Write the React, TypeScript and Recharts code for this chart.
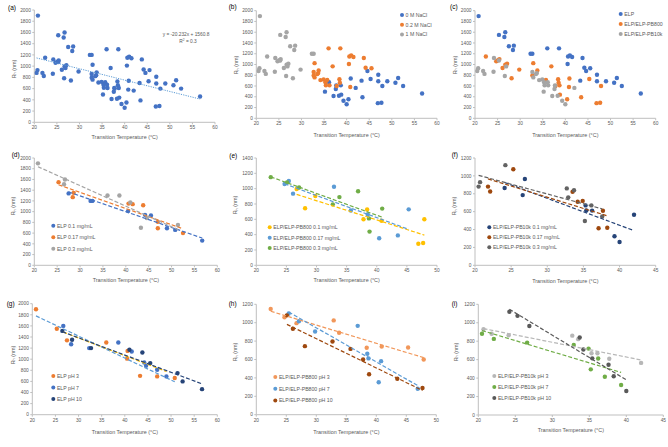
import React from 'react';
import { ScatterChart, Scatter, XAxis, YAxis } from 'recharts';

type Pt = { t: number; rh: number; conc: number; ph: number; nacl: number };
type Row = [number, number, number, number, number];

// [transition temperature (°C), Rh (nm), conc (mg/mL), pH, NaCl (M)]
const elpRows: Row[] = [
  [20.8, 1900, 0.3, 3, 1], [25.3, 1550, 0.17, 3, 1], [26.5, 1510, 0.3, 10, 1],
  [26.7, 1600, 0.3, 7, 1], [27.5, 1340, 0.1, 3, 1], [28.4, 1270, 0.17, 7, 1],
  [28.6, 1350, 0.17, 10, 1], [32.3, 1200, 0.1, 7, 1], [32.7, 1200, 0.1, 10, 1],
  [36.0, 1300, 0.3, 3, 0.2], [38.6, 1300, 0.3, 7, 0.2], [40.5, 1010, 0.1, 3, 0.2],
  [40.6, 1150, 0.17, 3, 0.2], [41.0, 1170, 0.3, 10, 0.2], [41.5, 1140, 0.17, 7, 0.2],
  [43.8, 1120, 0.17, 10, 0.2], [44.2, 940, 0.1, 7, 0.2], [45.5, 930, 0.1, 10, 0.2],
  [44.6, 880, 0.3, 7, 0], [43.3, 700, 0.3, 3, 0], [47.0, 690, 0.17, 3, 0],
  [47.0, 810, 0.17, 7, 0], [49.0, 690, 0.1, 7, 0], [51.4, 750, 0.3, 10, 0],
  [50.8, 660, 0.1, 3, 0], [52.5, 600, 0.17, 10, 0], [56.7, 460, 0.1, 10, 0],
];

const pb800Rows: Row[] = [
  [22.4, 1150, 0.3, 3, 1], [24.7, 1060, 0.17, 3, 1], [25.1, 1080, 0.3, 10, 1],
  [25.4, 1100, 0.17, 7, 1], [26.1, 935, 0.17, 10, 1], [26.7, 995, 0.1, 3, 1],
  [27.1, 1015, 0.3, 7, 1], [28.1, 745, 0.1, 10, 1], [29.8, 905, 0.1, 7, 1],
  [32.9, 1025, 0.17, 3, 0.2], [32.7, 795, 0.3, 10, 0.2], [33.8, 890, 0.3, 3, 0.2],
  [35.7, 715, 0.17, 10, 0.2], [36.9, 966, 0.3, 7, 0.2], [38.4, 728, 0.1, 3, 0.2],
  [38.5, 662, 0.17, 7, 0.2], [37.8, 600, 0.1, 10, 0.2], [40.8, 582, 0.1, 7, 0.2],
  [38.7, 612, 0.3, 7, 0], [38.8, 440, 0.3, 10, 0], [40.9, 740, 0.3, 3, 0],
  [40.4, 353, 0.17, 7, 0], [43.5, 390, 0.17, 10, 0], [45.3, 730, 0.17, 3, 0],
  [46.9, 282, 0.1, 7, 0], [47.7, 290, 0.1, 10, 0], [47.9, 600, 0.1, 3, 0],
];

const pb10kRows: Row[] = [
  [20.5, 880, 0.3, 7, 1], [20.7, 930, 0.3, 3, 1], [21.8, 880, 0.17, 3, 1],
  [22.1, 825, 0.17, 7, 1], [24.1, 865, 0.1, 3, 1], [24.2, 1120, 0.3, 10, 1],
  [25.3, 1075, 0.17, 10, 1], [26.6, 785, 0.1, 7, 1], [26.9, 965, 0.1, 10, 1],
  [32.7, 860, 0.3, 3, 0.2], [32.9, 760, 0.3, 7, 0.2], [33.7, 840, 0.3, 10, 0.2],
  [33.5, 822, 0.17, 3, 0.2], [34.2, 710, 0.17, 10, 0.2], [34.9, 720, 0.17, 7, 0.2],
  [35.3, 670, 0.1, 3, 0.2], [36.2, 612, 0.1, 7, 0.2], [35.4, 614, 0.1, 10, 0.2],
  [35.2, 495, 0.3, 7, 0], [36.1, 670, 0.3, 3, 0], [37.6, 545, 0.3, 10, 0],
  [37.7, 610, 0.17, 3, 0], [37.1, 415, 0.17, 7, 0], [38.3, 420, 0.17, 10, 0],
  [39.3, 325, 0.1, 7, 0], [40.0, 260, 0.1, 10, 0], [42.0, 565, 0.1, 3, 0],
];

const concLevels = [0.1, 0.17, 0.3];
const phLevels = [3, 7, 10];
const naclLevels = [0, 0.2, 1];
const naclNames = ['0 M NaCl', '0.2 M NaCl', '1 M NaCl'];
const typeNames = ['ELP', 'ELP/ELP-PB800', 'ELP/ELP-PB10k'];

// Excel trendline shown in panel (a)
const fitA = { slope: -20.232, intercept: 1560.8, r2: 0.3 };

const xTicks60 = [20, 25, 30, 35, 40, 45, 50, 55, 60];
const xTicks50 = [20, 25, 30, 35, 40, 45, 50];
const xTicks45 = [20, 25, 30, 35, 40, 45];
const yTicks2000 = [0, 200, 400, 600, 800, 1000, 1200, 1400, 1600, 1800, 2000];
const yTicks1400 = [0, 200, 400, 600, 800, 1000, 1200, 1400];
const yTicks1200 = [0, 200, 400, 600, 800, 1000, 1200];

const toPts = (rows: Row[]): Pt[] => rows.map(([t, rh, conc, ph, nacl]) => ({ t, rh, conc, ph, nacl }));
const elp = toPts(elpRows);
const pb800 = toPts(pb800Rows);
const pb10k = toPts(pb10kRows);
const allPts = [...elp, ...pb800, ...pb10k];

const FONT = '"Liberation Sans", Arial, sans-serif';
const TXT = '#595959';
const AXIS = '#BFBFBF';

type SeriesDef = { name: string; color: string; line?: string; pts: Pt[] };
type PanelDef = {
  tag: string;
  tagPos: [number, number];
  box: [number, number];
  plot: [number, number, number, number];
  xTicks: number[];
  yTicks: number[];
  series: SeriesDef[];
  fit: 'none' | 'dashed' | 'equation';
  legend?: { x: number; y: number; gap: number };
  yTitle: [number, number];
  xTitleY: number;
};

function trend(pts: Pt[]) {
  const n = pts.length;
  const mx = pts.reduce((s, p) => s + p.t, 0) / n;
  const my = pts.reduce((s, p) => s + p.rh, 0) / n;
  let sxy = 0;
  let sxx = 0;
  pts.forEach((p) => {
    sxy += (p.t - mx) * (p.rh - my);
    sxx += (p.t - mx) * (p.t - mx);
  });
  const b = sxy / sxx;
  const a = my - b * mx;
  const lo = Math.min(...pts.map((p) => p.t));
  const hi = Math.max(...pts.map((p) => p.t));
  return [{ t: lo, rh: a + b * lo }, { t: hi, rh: a + b * hi }];
}

function equationLine(pts: Pt[]) {
  const lo = Math.min(...pts.map((p) => p.t));
  const hi = Math.max(...pts.map((p) => p.t));
  return [lo, hi].map((t) => ({ t, rh: fitA.slope * t + fitA.intercept }));
}

const byConc = (pts: Pt[], prefix: string, colors: string[]): SeriesDef[] =>
  concLevels.map((c, i) => ({ name: `${prefix} ${c} mg/mL`, color: colors[i], pts: pts.filter((p) => p.conc === c) }));
const byPh = (pts: Pt[], prefix: string, colors: string[], lines?: string[]): SeriesDef[] =>
  phLevels.map((ph, i) => ({ name: `${prefix} pH ${ph}`, color: colors[i], line: lines?.[i], pts: pts.filter((p) => p.ph === ph) }));

const panels: PanelDef[] = [
  {
    tag: '(a)', tagPos: [8, 7.5], box: [0, 0], plot: [34.3, 10, 215, 122.3],
    xTicks: xTicks60, yTicks: yTicks2000, fit: 'equation',
    series: [{ name: 'all', color: '#4472C4', line: '#5B9BD5', pts: allPts }],
    yTitle: [14, 69], xTitleY: 137,
  },
  {
    tag: '(b)', tagPos: [228.7, 6.7], box: [222, 0], plot: [256.3, 10.7, 437, 118.3],
    xTicks: xTicks60, yTicks: yTicks2000, fit: 'none',
    series: naclLevels.map((n, i) => ({ name: naclNames[i], color: ['#4472C4', '#ED7D31', '#A5A5A5'][i], pts: allPts.filter((p) => p.nacl === n) })),
    legend: { x: 402, y: 15, gap: 9.7 }, yTitle: [236.3, 65], xTitleY: 135,
  },
  {
    tag: '(c)', tagPos: [450, 6.5], box: [445, 0], plot: [475, 10.7, 655.7, 118.3],
    xTicks: xTicks60, yTicks: yTicks2000, fit: 'none',
    series: [elp, pb800, pb10k].map((pts, i) => ({ name: typeNames[i], color: ['#4472C4', '#ED7D31', '#A5A5A5'][i], pts })),
    legend: { x: 620.7, y: 14, gap: 10 }, yTitle: [455, 65], xTitleY: 135,
  },
  {
    tag: '(d)', tagPos: [11.7, 154.5], box: [0, 148], plot: [34.3, 158, 217.3, 265.3],
    xTicks: xTicks60, yTicks: yTicks2000, fit: 'dashed',
    series: byConc(elp, 'ELP', ['#4472C4', '#ED7D31', '#A5A5A5']),
    legend: { x: 53.3, y: 225.7, gap: 11.5 }, yTitle: [13.3, 206], xTitleY: 280,
  },
  {
    tag: '(e)', tagPos: [229.3, 155], box: [222, 148], plot: [256.3, 158, 437, 265.3],
    xTicks: xTicks50, yTicks: yTicks1400, fit: 'dashed',
    series: byConc(pb800, 'ELP/ELP-PB800', ['#FFC000', '#5B9BD5', '#70AD47']),
    legend: { x: 269.7, y: 227.3, gap: 10.4 }, yTitle: [235.3, 205], xTitleY: 280,
  },
  {
    tag: '(f)', tagPos: [451.7, 154], box: [445, 148], plot: [475, 158, 655.7, 265.3],
    xTicks: xTicks45, yTicks: yTicks1200, fit: 'dashed',
    series: byConc(pb10k, 'ELP/ELP-PB10k', ['#264478', '#9E480E', '#636363']),
    legend: { x: 489.3, y: 227.3, gap: 10 }, yTitle: [454.3, 206], xTitleY: 281,
  },
  {
    tag: '(g)', tagPos: [6.7, 303], box: [0, 297], plot: [32.3, 303.7, 217.3, 414.7],
    xTicks: xTicks60, yTicks: yTicks2000, fit: 'dashed',
    series: byPh(elp, 'ELP', ['#ED7D31', '#4472C4', '#264478'], ['#5B9BD5', '#FFC000', '#264478']),
    legend: { x: 53.3, y: 376, gap: 11.5 }, yTitle: [12.7, 355], xTitleY: 432,
  },
  {
    tag: '(h)', tagPos: [228.7, 303], box: [222, 297], plot: [256.3, 304.3, 436.3, 414.7],
    xTicks: xTicks50, yTicks: yTicks1200, fit: 'dashed',
    series: byPh(pb800, 'ELP/ELP-PB800', ['#F1975A', '#5B9BD5', '#9E480E']),
    legend: { x: 275.3, y: 377, gap: 11.7 }, yTitle: [235.3, 352], xTitleY: 432,
  },
  {
    tag: '(i)', tagPos: [451.7, 303], box: [445, 297], plot: [478.3, 304.3, 663.3, 415],
    xTicks: xTicks45, yTicks: yTicks1200, fit: 'dashed',
    series: byPh(pb10k, 'ELP/ELP-PB10k', ['#B7B7B7', '#70AD47', '#595959']),
    legend: { x: 494.3, y: 376, gap: 11 }, yTitle: [455.7, 352], xTitleY: 430,
  },
];

const W = 223;
const H = 150;
const YW = 20;
const XH = 12;

const dot = (color: string) => (props: any) => <circle cx={props.cx} cy={props.cy} r={2.2} fill={color} />;
const noDot = () => <g />;

function Panel({ p }: { p: PanelDef }) {
  const [bx, by] = p.box;
  const [l, t, r, b] = p.plot;
  const margin = { left: l - bx - YW, top: t - by, right: bx + W - r, bottom: by + H - b - XH };
  const tick = { fontSize: 4.8, fill: TXT, fontFamily: FONT };
  return (
    <div style={{ position: 'absolute', left: bx, top: by }}>
      <ScatterChart width={W} height={H} margin={margin}>
        <XAxis
          type="number"
          dataKey="t"
          domain={[p.xTicks[0], p.xTicks[p.xTicks.length - 1]]}
          ticks={p.xTicks}
          height={XH}
          tick={tick}
          tickSize={2}
          tickMargin={1.5}
          stroke={AXIS}
          allowDataOverflow
        />
        <YAxis
          type="number"
          dataKey="rh"
          domain={[0, p.yTicks[p.yTicks.length - 1]]}
          ticks={p.yTicks}
          width={YW}
          tick={tick}
          tickSize={2}
          tickMargin={1.5}
          stroke={AXIS}
          allowDataOverflow
        />
        {p.series.map((s) => (
          <Scatter key={s.name} data={s.pts} shape={dot(s.color)} isAnimationActive={false} />
        ))}
        {p.fit === 'dashed' &&
          p.series.map((s) => (
            <Scatter
              key={`fit-${s.name}`}
              data={trend(s.pts)}
              line={{ stroke: s.line || s.color, strokeWidth: 1.2, strokeDasharray: '4 2' }}
              shape={noDot}
              isAnimationActive={false}
            />
          ))}
        {p.fit === 'equation' && (
          <Scatter
            data={equationLine(p.series[0].pts)}
            line={{ stroke: p.series[0].line, strokeWidth: 1, strokeDasharray: '1.2 1.2' }}
            shape={noDot}
            isAnimationActive={false}
          />
        )}
      </ScatterChart>
    </div>
  );
}

function Overlay() {
  return (
    <svg width={668} height={447} style={{ position: 'absolute', left: 0, top: 0, pointerEvents: 'none' }} fontFamily={FONT}>
      {panels.map((p) => {
        const [l, , r] = p.plot;
        return (
          <g key={p.tag}>
            <text x={p.tagPos[0]} y={p.tagPos[1]} fontSize={6.5} fill="#000" dominantBaseline="central">
              {p.tag}
            </text>
            <text x={(l + r) / 2} y={p.xTitleY} fontSize={5.4} fill={TXT} textAnchor="middle" dominantBaseline="central">
              Transition Temperature (°C)
            </text>
            <text
              transform={`translate(${p.yTitle[0]},${p.yTitle[1]}) rotate(-90)`}
              fontSize={5.4}
              fill={TXT}
              textAnchor="middle"
              dominantBaseline="central"
            >
              R<tspan fontSize={3.8} dy={1.3}>h</tspan>
              <tspan dy={-1.3}> (nm)</tspan>
            </text>
            {p.legend &&
              p.series.map((s, i) => (
                <g key={s.name}>
                  <circle cx={p.legend!.x} cy={p.legend!.y + i * p.legend!.gap} r={2} fill={s.color} />
                  <text
                    x={p.legend!.x + 3.6}
                    y={p.legend!.y + i * p.legend!.gap}
                    fontSize={5.2}
                    fill={TXT}
                    dominantBaseline="central"
                  >
                    {s.name}
                  </text>
                </g>
              ))}
          </g>
        );
      })}
      <text x={186} y={34} fontSize={4.8} fill={TXT} textAnchor="middle" dominantBaseline="central">
        {`y = ${fitA.slope}x + ${fitA.intercept}`}
      </text>
      <text x={188} y={41} fontSize={4.8} fill={TXT} textAnchor="middle" dominantBaseline="central">
        R<tspan fontSize={3.2} dy={-1.5}>2</tspan>
        <tspan dy={1.5}>{` = ${fitA.r2}`}</tspan>
      </text>
    </svg>
  );
}

export default function App() {
  return (
    <div style={{ position: 'absolute', left: 0, top: 0, width: 668, height: 447, background: '#fff', overflow: 'hidden' }}>
      {panels.map((p) => (
        <Panel key={p.tag} p={p} />
      ))}
      <Overlay />
    </div>
  );
}
